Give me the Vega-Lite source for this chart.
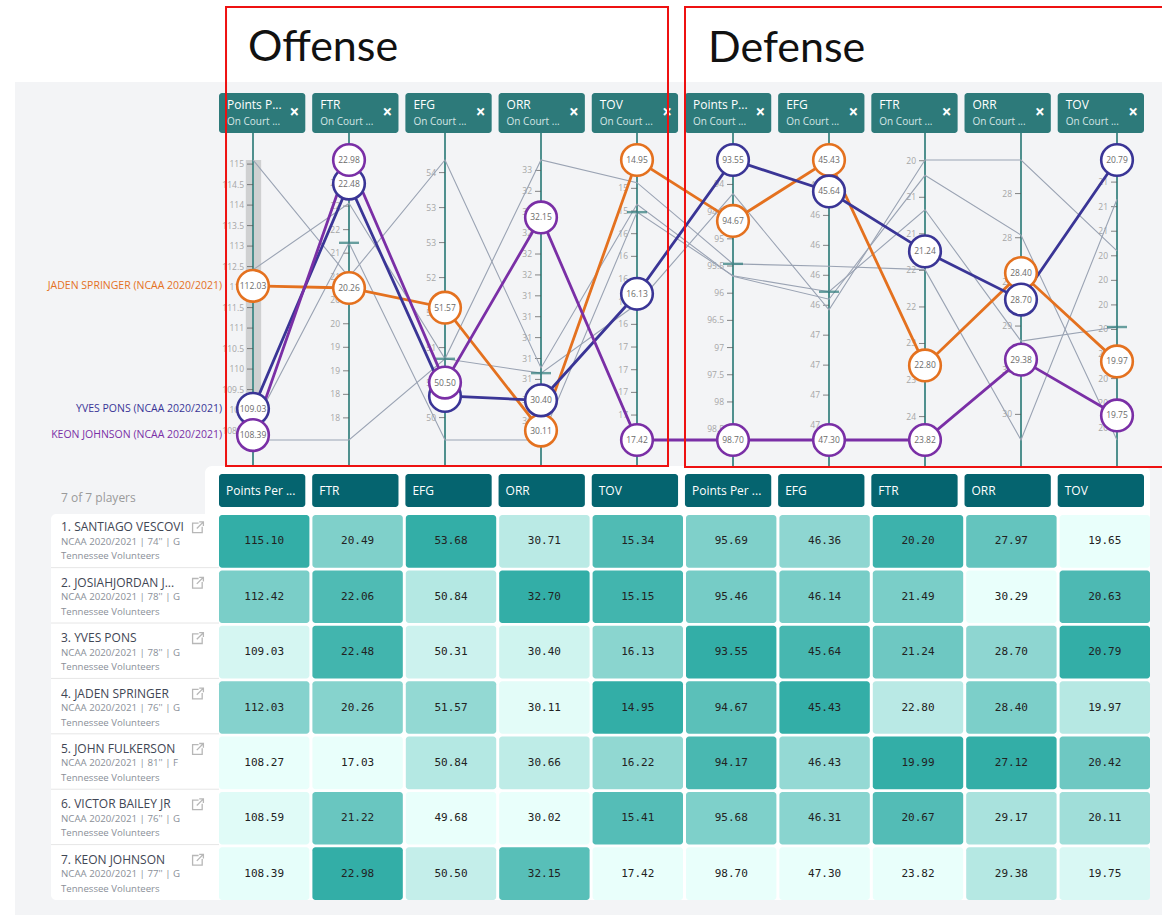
{"$schema":"https://vega.github.io/schema/vega-lite/v6.json","width":1162,"height":917,"padding":0,"autosize":{"type":"none"},"background":"white","config":{"view":{"stroke":null},"axis":{"disable":true},"legend":{"disable":true},"text":{"font":"Open Sans"}},
"datasets":{
"axes":[
{"stat":"OPPP","idx":0,"top":115.10,"bottom":108.27,"short":"Points P...","long":"Points Per ..."},
{"stat":"OFTR","idx":1,"top":22.98,"bottom":17.03,"short":"FTR","long":"FTR"},
{"stat":"OEFG","idx":2,"top":53.68,"bottom":49.68,"short":"EFG","long":"EFG"},
{"stat":"OORR","idx":3,"top":32.70,"bottom":30.02,"short":"ORR","long":"ORR"},
{"stat":"OTOV","idx":4,"top":14.95,"bottom":17.42,"short":"TOV","long":"TOV"},
{"stat":"DPPP","idx":5,"top":93.55,"bottom":98.70,"short":"Points P...","long":"Points Per ..."},
{"stat":"DEFG","idx":6,"top":45.43,"bottom":47.30,"short":"EFG","long":"EFG"},
{"stat":"DFTR","idx":7,"top":19.99,"bottom":23.82,"short":"FTR","long":"FTR"},
{"stat":"DORR","idx":8,"top":27.12,"bottom":30.29,"short":"ORR","long":"ORR"},
{"stat":"DTOV","idx":9,"top":20.79,"bottom":19.65,"short":"TOV","long":"TOV"}],
"players":[
{"player":"Santiago Vescovi","rank":1,"list":"1. SANTIAGO VESCOVI","meta":"NCAA 2020/2021 | 74'' | G","team":"Tennessee Volunteers","label":""},
{"player":"Josiah-Jordan James","rank":2,"list":"2. JOSIAHJORDAN J...","meta":"NCAA 2020/2021 | 78'' | G","team":"Tennessee Volunteers","label":""},
{"player":"Yves Pons","rank":3,"list":"3. YVES PONS","meta":"NCAA 2020/2021 | 78'' | G","team":"Tennessee Volunteers","label":"YVES PONS (NCAA 2020/2021)"},
{"player":"Jaden Springer","rank":4,"list":"4. JADEN SPRINGER","meta":"NCAA 2020/2021 | 76'' | G","team":"Tennessee Volunteers","label":"JADEN SPRINGER (NCAA 2020/2021)"},
{"player":"John Fulkerson","rank":5,"list":"5. JOHN FULKERSON","meta":"NCAA 2020/2021 | 81'' | F","team":"Tennessee Volunteers","label":""},
{"player":"Victor Bailey Jr","rank":6,"list":"6. VICTOR BAILEY JR","meta":"NCAA 2020/2021 | 76'' | G","team":"Tennessee Volunteers","label":""},
{"player":"Keon Johnson","rank":7,"list":"7. KEON JOHNSON","meta":"NCAA 2020/2021 | 77'' | G","team":"Tennessee Volunteers","label":"KEON JOHNSON (NCAA 2020/2021)"}],
"cells":[
{"player":"Santiago Vescovi","stat":"OPPP","value":115.10},{"player":"Santiago Vescovi","stat":"OFTR","value":20.49},{"player":"Santiago Vescovi","stat":"OEFG","value":53.68},{"player":"Santiago Vescovi","stat":"OORR","value":30.71},{"player":"Santiago Vescovi","stat":"OTOV","value":15.34},{"player":"Santiago Vescovi","stat":"DPPP","value":95.69},{"player":"Santiago Vescovi","stat":"DEFG","value":46.36},{"player":"Santiago Vescovi","stat":"DFTR","value":20.20},{"player":"Santiago Vescovi","stat":"DORR","value":27.97},{"player":"Santiago Vescovi","stat":"DTOV","value":19.65},
{"player":"Josiah-Jordan James","stat":"OPPP","value":112.42},{"player":"Josiah-Jordan James","stat":"OFTR","value":22.06},{"player":"Josiah-Jordan James","stat":"OEFG","value":50.84},{"player":"Josiah-Jordan James","stat":"OORR","value":32.70},{"player":"Josiah-Jordan James","stat":"OTOV","value":15.15},{"player":"Josiah-Jordan James","stat":"DPPP","value":95.46},{"player":"Josiah-Jordan James","stat":"DEFG","value":46.14},{"player":"Josiah-Jordan James","stat":"DFTR","value":21.49},{"player":"Josiah-Jordan James","stat":"DORR","value":30.29},{"player":"Josiah-Jordan James","stat":"DTOV","value":20.63},
{"player":"John Fulkerson","stat":"OPPP","value":108.27},{"player":"John Fulkerson","stat":"OFTR","value":17.03},{"player":"John Fulkerson","stat":"OEFG","value":50.84},{"player":"John Fulkerson","stat":"OORR","value":30.66},{"player":"John Fulkerson","stat":"OTOV","value":16.22},{"player":"John Fulkerson","stat":"DPPP","value":94.17},{"player":"John Fulkerson","stat":"DEFG","value":46.43},{"player":"John Fulkerson","stat":"DFTR","value":19.99},{"player":"John Fulkerson","stat":"DORR","value":27.12},{"player":"John Fulkerson","stat":"DTOV","value":20.42},
{"player":"Victor Bailey Jr","stat":"OPPP","value":108.59},{"player":"Victor Bailey Jr","stat":"OFTR","value":21.22},{"player":"Victor Bailey Jr","stat":"OEFG","value":49.68},{"player":"Victor Bailey Jr","stat":"OORR","value":30.02},{"player":"Victor Bailey Jr","stat":"OTOV","value":15.41},{"player":"Victor Bailey Jr","stat":"DPPP","value":95.68},{"player":"Victor Bailey Jr","stat":"DEFG","value":46.31},{"player":"Victor Bailey Jr","stat":"DFTR","value":20.67},{"player":"Victor Bailey Jr","stat":"DORR","value":29.17},{"player":"Victor Bailey Jr","stat":"DTOV","value":20.11},
{"player":"Jaden Springer","stat":"OPPP","value":112.03},{"player":"Jaden Springer","stat":"OFTR","value":20.26},{"player":"Jaden Springer","stat":"OEFG","value":51.57},{"player":"Jaden Springer","stat":"OORR","value":30.11},{"player":"Jaden Springer","stat":"OTOV","value":14.95},{"player":"Jaden Springer","stat":"DPPP","value":94.67},{"player":"Jaden Springer","stat":"DEFG","value":45.43},{"player":"Jaden Springer","stat":"DFTR","value":22.80},{"player":"Jaden Springer","stat":"DORR","value":28.40},{"player":"Jaden Springer","stat":"DTOV","value":19.97},
{"player":"Yves Pons","stat":"OPPP","value":109.03},{"player":"Yves Pons","stat":"OFTR","value":22.48},{"player":"Yves Pons","stat":"OEFG","value":50.31},{"player":"Yves Pons","stat":"OORR","value":30.40},{"player":"Yves Pons","stat":"OTOV","value":16.13},{"player":"Yves Pons","stat":"DPPP","value":93.55},{"player":"Yves Pons","stat":"DEFG","value":45.64},{"player":"Yves Pons","stat":"DFTR","value":21.24},{"player":"Yves Pons","stat":"DORR","value":28.70},{"player":"Yves Pons","stat":"DTOV","value":20.79},
{"player":"Keon Johnson","stat":"OPPP","value":108.39},{"player":"Keon Johnson","stat":"OFTR","value":22.98},{"player":"Keon Johnson","stat":"OEFG","value":50.50},{"player":"Keon Johnson","stat":"OORR","value":32.15},{"player":"Keon Johnson","stat":"OTOV","value":17.42},{"player":"Keon Johnson","stat":"DPPP","value":98.70},{"player":"Keon Johnson","stat":"DEFG","value":47.30},{"player":"Keon Johnson","stat":"DFTR","value":23.82},{"player":"Keon Johnson","stat":"DORR","value":29.38},{"player":"Keon Johnson","stat":"DTOV","value":19.75}],
"ticks":[
{"stat":"OPPP","value":108.5,"label":"108.5"},{"stat":"OPPP","value":109,"label":"109"},{"stat":"OPPP","value":109.5,"label":"109.5"},{"stat":"OPPP","value":110,"label":"110"},{"stat":"OPPP","value":110.5,"label":"110.5"},{"stat":"OPPP","value":111,"label":"111"},{"stat":"OPPP","value":111.5,"label":"111.5"},{"stat":"OPPP","value":112,"label":"112"},{"stat":"OPPP","value":112.5,"label":"112.5"},{"stat":"OPPP","value":113,"label":"113"},{"stat":"OPPP","value":113.5,"label":"113.5"},{"stat":"OPPP","value":114,"label":"114"},{"stat":"OPPP","value":114.5,"label":"114.5"},{"stat":"OPPP","value":115,"label":"115"},
{"stat":"OFTR","value":17.5,"label":"18"},{"stat":"OFTR","value":18,"label":"18"},{"stat":"OFTR","value":18.5,"label":"19"},{"stat":"OFTR","value":19,"label":"19"},{"stat":"OFTR","value":19.5,"label":"20"},{"stat":"OFTR","value":20,"label":"20"},{"stat":"OFTR","value":20.5,"label":"21"},{"stat":"OFTR","value":21,"label":"21"},{"stat":"OFTR","value":21.5,"label":"22"},{"stat":"OFTR","value":22,"label":"22"},{"stat":"OFTR","value":22.5,"label":"23"},
{"stat":"OEFG","value":50,"label":"50"},{"stat":"OEFG","value":50.5,"label":"51"},{"stat":"OEFG","value":51,"label":"51"},{"stat":"OEFG","value":51.5,"label":"52"},{"stat":"OEFG","value":52,"label":"52"},{"stat":"OEFG","value":52.5,"label":"53"},{"stat":"OEFG","value":53,"label":"53"},{"stat":"OEFG","value":53.5,"label":"54"},
{"stat":"OORR","value":30.2,"label":"30"},{"stat":"OORR","value":30.4,"label":"30"},{"stat":"OORR","value":30.6,"label":"31"},{"stat":"OORR","value":30.8,"label":"31"},{"stat":"OORR","value":31,"label":"31"},{"stat":"OORR","value":31.2,"label":"31"},{"stat":"OORR","value":31.4,"label":"31"},{"stat":"OORR","value":31.6,"label":"32"},{"stat":"OORR","value":31.8,"label":"32"},{"stat":"OORR","value":32,"label":"32"},{"stat":"OORR","value":32.2,"label":"32"},{"stat":"OORR","value":32.4,"label":"32"},{"stat":"OORR","value":32.6,"label":"33"},
{"stat":"OTOV","value":15.2,"label":"15"},{"stat":"OTOV","value":15.4,"label":"15"},{"stat":"OTOV","value":15.6,"label":"16"},{"stat":"OTOV","value":15.8,"label":"16"},{"stat":"OTOV","value":16,"label":"16"},{"stat":"OTOV","value":16.2,"label":"16"},{"stat":"OTOV","value":16.4,"label":"16"},{"stat":"OTOV","value":16.6,"label":"17"},{"stat":"OTOV","value":16.8,"label":"17"},{"stat":"OTOV","value":17,"label":"17"},{"stat":"OTOV","value":17.2,"label":"17"},
{"stat":"DPPP","value":94,"label":"94"},{"stat":"DPPP","value":94.5,"label":"94.5"},{"stat":"DPPP","value":95,"label":"95"},{"stat":"DPPP","value":95.5,"label":"95.5"},{"stat":"DPPP","value":96,"label":"96"},{"stat":"DPPP","value":96.5,"label":"96.5"},{"stat":"DPPP","value":97,"label":"97"},{"stat":"DPPP","value":97.5,"label":"97.5"},{"stat":"DPPP","value":98,"label":"98"},{"stat":"DPPP","value":98.5,"label":"98.5"},
{"stat":"DEFG","value":45.6,"label":"46"},{"stat":"DEFG","value":45.8,"label":"46"},{"stat":"DEFG","value":46,"label":"46"},{"stat":"DEFG","value":46.2,"label":"46"},{"stat":"DEFG","value":46.4,"label":"46"},{"stat":"DEFG","value":46.6,"label":"47"},{"stat":"DEFG","value":46.8,"label":"47"},{"stat":"DEFG","value":47,"label":"47"},{"stat":"DEFG","value":47.2,"label":"47"},
{"stat":"DFTR","value":20,"label":"20"},{"stat":"DFTR","value":20.5,"label":"21"},{"stat":"DFTR","value":21,"label":"21"},{"stat":"DFTR","value":21.5,"label":"22"},{"stat":"DFTR","value":22,"label":"22"},{"stat":"DFTR","value":22.5,"label":"23"},{"stat":"DFTR","value":23,"label":"23"},{"stat":"DFTR","value":23.5,"label":"24"},
{"stat":"DORR","value":27.5,"label":"28"},{"stat":"DORR","value":28,"label":"28"},{"stat":"DORR","value":28.5,"label":"29"},{"stat":"DORR","value":29,"label":"29"},{"stat":"DORR","value":29.5,"label":"30"},{"stat":"DORR","value":30,"label":"30"},
{"stat":"DTOV","value":19.7,"label":"20"},{"stat":"DTOV","value":19.8,"label":"20"},{"stat":"DTOV","value":19.9,"label":"20"},{"stat":"DTOV","value":20,"label":"20"},{"stat":"DTOV","value":20.1,"label":"20"},{"stat":"DTOV","value":20.2,"label":"20"},{"stat":"DTOV","value":20.3,"label":"20"},{"stat":"DTOV","value":20.4,"label":"20"},{"stat":"DTOV","value":20.5,"label":"21"},{"stat":"DTOV","value":20.6,"label":"21"},{"stat":"DTOV","value":20.7,"label":"21"}]
},
"data":{"name":"cells"},
"transform":[
{"lookup":"stat","from":{"data":{"name":"axes"},"key":"stat","fields":["idx","top","bottom"]}},
{"lookup":"player","from":{"data":{"name":"players"},"key":"player","fields":["rank","label"]}},
{"calculate":"(datum.top-datum.value)/(datum.top-datum.bottom)","as":"pos"}],
"resolve":{"scale":{"x":"independent","y":"independent","color":"independent","stroke":"independent"}},
"layer":[
{"data":{"values":[{"part":"panel"}]},"mark":{"type":"rect","fill":"#f3f4f6"},"encoding":{"x":{"datum":-2.479,"type":"quantitative","scale":{"domain":[0,9],"range":[253,1117],"nice":false,"zero":false}},"x2":{"datum":9.47},"y":{"datum":-0.279,"type":"quantitative","scale":{"domain":[0,1],"range":[160,440],"nice":false,"zero":false}},"y2":{"datum":2.696}}},
{"data":{"values":[{"part":"strip"}]},"mark":{"type":"rect","fill":"white","cornerRadius":7},"encoding":{"x":{"datum":-0.5,"type":"quantitative","scale":{"domain":[0,9],"range":[253,1117],"nice":false,"zero":false}},"x2":{"datum":9.344},"y":{"datum":1.093,"type":"quantitative","scale":{"domain":[0,1],"range":[160,440],"nice":false,"zero":false}},"y2":{"datum":1.3}}},
{"data":{"values":[{"part":"table"}]},"mark":{"type":"rect","fill":"white","cornerRadius":5},"encoding":{"x":{"datum":-2.104,"type":"quantitative","scale":{"domain":[0,9],"range":[253,1117],"nice":false,"zero":false}},"x2":{"datum":9.344},"y":{"datum":1.264,"type":"quantitative","scale":{"domain":[0,1],"range":[160,440],"nice":false,"zero":false}},"y2":{"datum":2.643}}},
{"data":{"values":[{"part":"brush"}]},"mark":{"type":"rect","fill":"#cfd0d1"},"encoding":{"x":{"datum":-0.075,"type":"quantitative","scale":{"domain":[0,9],"range":[253,1117],"nice":false,"zero":false}},"x2":{"datum":0.085},"y":{"datum":0,"type":"quantitative","scale":{"domain":[0,1],"range":[160,440],"nice":false,"zero":false}},"y2":{"datum":0.93}}},
{"data":{"name":"axes"},"mark":{"type":"rule","color":"#4f908e","strokeWidth":2},"encoding":{"x":{"field":"idx","type":"quantitative","scale":{"domain":[0,9],"range":[253,1117],"nice":false,"zero":false}},"y":{"datum":0,"type":"quantitative","scale":{"domain":[0,1],"range":[133,467],"nice":false,"zero":false}},"y2":{"datum":1}}},
{"data":{"name":"ticks"},"transform":[{"lookup":"stat","from":{"data":{"name":"axes"},"key":"stat","fields":["idx","top","bottom"]}},{"calculate":"(datum.top-datum.value)/(datum.top-datum.bottom)","as":"pos"}],"mark":{"type":"point","shape":"stroke","size":36,"stroke":"#555","strokeWidth":1,"xOffset":-3},"encoding":{"x":{"field":"idx","type":"quantitative","scale":{"domain":[0,9],"range":[253,1117],"nice":false,"zero":false}},"y":{"field":"pos","type":"quantitative","scale":{"domain":[0,1],"range":[160,440],"nice":false,"zero":false}}}},
{"data":{"name":"ticks"},"transform":[{"lookup":"stat","from":{"data":{"name":"axes"},"key":"stat","fields":["idx","top","bottom"]}},{"calculate":"(datum.top-datum.value)/(datum.top-datum.bottom)","as":"pos"}],"mark":{"type":"text","align":"right","baseline":"middle","dx":-9,"fontSize":8.5,"color":"#a6a6a6"},"encoding":{"x":{"field":"idx","type":"quantitative","scale":{"domain":[0,9],"range":[253,1117],"nice":false,"zero":false}},"y":{"field":"pos","type":"quantitative","scale":{"domain":[0,1],"range":[160,440],"nice":false,"zero":false}},"text":{"field":"label"}}},
{"transform":[{"filter":{"field":"player","oneOf":["Santiago Vescovi","Josiah-Jordan James","John Fulkerson","Victor Bailey Jr"]}}],"mark":{"type":"line","color":"#9aa3b3","strokeWidth":1.1},"encoding":{"x":{"field":"idx","type":"quantitative","scale":{"domain":[0,9],"range":[253,1117],"nice":false,"zero":false}},"y":{"field":"pos","type":"quantitative","scale":{"domain":[0,1],"range":[160,440],"nice":false,"zero":false}},"detail":{"field":"player"}}},
{"transform":[{"aggregate":[{"op":"median","field":"pos","as":"med"}],"groupby":["idx"]}],"mark":{"type":"point","shape":"stroke","size":400,"stroke":"#2d7a7a","strokeWidth":2.4},"encoding":{"x":{"field":"idx","type":"quantitative","scale":{"domain":[0,9],"range":[253,1117],"nice":false,"zero":false}},"y":{"field":"med","type":"quantitative","scale":{"domain":[0,1],"range":[160,440],"nice":false,"zero":false}}}},
{"data":{"name":"axes"},"mark":{"type":"rect","fill":"#2d7a7a","cornerRadius":3},"encoding":{"x":{"field":"idx","type":"ordinal","scale":{"type":"band","range":[219,1144],"paddingInner":0.074,"paddingOuter":0}},"y":{"datum":"head","type":"nominal","scale":{"type":"band","domain":["head"],"range":[93,133]}}}},
{"data":{"name":"axes"},"mark":{"type":"text","align":"left","baseline":"middle","dx":8,"dy":-8,"fontSize":12,"color":"white"},"encoding":{"x":{"field":"idx","type":"ordinal","bandPosition":0,"scale":{"type":"band","range":[219,1144],"paddingInner":0.074,"paddingOuter":0}},"y":{"datum":"head","type":"nominal","scale":{"type":"band","domain":["head"],"range":[93,133]}},"text":{"field":"short"}}},
{"data":{"name":"axes"},"mark":{"type":"text","align":"left","baseline":"middle","dx":8,"dy":9,"fontSize":10,"color":"#d5e6e6","text":"On Court ..."},"encoding":{"x":{"field":"idx","type":"ordinal","bandPosition":0,"scale":{"type":"band","range":[219,1144],"paddingInner":0.074,"paddingOuter":0}},"y":{"datum":"head","type":"nominal","scale":{"type":"band","domain":["head"],"range":[93,133]}}}},
{"data":{"name":"axes"},"mark":{"type":"text","align":"center","baseline":"middle","dx":-11,"dy":0,"fontSize":17,"fontWeight":"bold","color":"white","text":"×"},"encoding":{"x":{"field":"idx","type":"ordinal","bandPosition":1,"scale":{"type":"band","range":[219,1144],"paddingInner":0.074,"paddingOuter":0}},"y":{"datum":"head","type":"nominal","scale":{"type":"band","domain":["head"],"range":[93,133]}}}},
{"transform":[{"filter":{"field":"player","oneOf":["Jaden Springer","Yves Pons","Keon Johnson"]}}],"mark":{"type":"line","strokeWidth":2.8},"encoding":{"x":{"field":"idx","type":"quantitative","scale":{"domain":[0,9],"range":[253,1117],"nice":false,"zero":false}},"y":{"field":"pos","type":"quantitative","scale":{"domain":[0,1],"range":[160,440],"nice":false,"zero":false}},"color":{"field":"player","type":"nominal","scale":{"domain":["Jaden Springer","Yves Pons","Keon Johnson"],"range":["#e4711f","#3a3596","#7a2fa6"]}}}},
{"transform":[{"filter":{"field":"player","oneOf":["Jaden Springer","Yves Pons","Keon Johnson"]}}],"mark":{"type":"point","filled":false,"fill":"white","size":1000,"strokeWidth":2.6,"opacity":1},"encoding":{"x":{"field":"idx","type":"quantitative","scale":{"domain":[0,9],"range":[253,1117],"nice":false,"zero":false}},"y":{"field":"pos","type":"quantitative","scale":{"domain":[0,1],"range":[160,440],"nice":false,"zero":false}},"stroke":{"field":"player","type":"nominal","scale":{"domain":["Jaden Springer","Yves Pons","Keon Johnson"],"range":["#e4711f","#3a3596","#7a2fa6"]}}}},
{"transform":[{"filter":{"field":"player","oneOf":["Jaden Springer","Yves Pons","Keon Johnson"]}},{"filter":"datum.stat!=='OEFG'||datum.player!=='Yves Pons'"}],"mark":{"type":"text","align":"center","baseline":"middle","fontSize":8.5,"color":"#6b6b6b"},"encoding":{"x":{"field":"idx","type":"quantitative","scale":{"domain":[0,9],"range":[253,1117],"nice":false,"zero":false}},"y":{"field":"pos","type":"quantitative","scale":{"domain":[0,1],"range":[160,440],"nice":false,"zero":false}},"text":{"field":"value","format":".2f"}}},
{"transform":[{"filter":{"field":"player","oneOf":["Jaden Springer","Yves Pons","Keon Johnson"]}},{"filter":"datum.idx===0"}],"mark":{"type":"text","align":"right","baseline":"middle","dx":-31,"fontSize":10.5},"encoding":{"x":{"field":"idx","type":"quantitative","scale":{"domain":[0,9],"range":[253,1117],"nice":false,"zero":false}},"y":{"field":"pos","type":"quantitative","scale":{"domain":[0,1],"range":[160,440],"nice":false,"zero":false}},"text":{"field":"label"},"color":{"field":"player","type":"nominal","scale":{"domain":["Jaden Springer","Yves Pons","Keon Johnson"],"range":["#e4711f","#3a3596","#7a2fa6"]}}}},
{"mark":{"type":"rect","cornerRadius":3},"encoding":{"x":{"field":"idx","type":"ordinal","scale":{"type":"band","range":[219,1150],"paddingInner":0.032,"paddingOuter":0}},"y":{"field":"rank","type":"ordinal","scale":{"type":"band","range":[515,900],"paddingInner":0.05,"paddingOuter":0}},"color":{"field":"pos","type":"quantitative","scale":{"domain":[0,1],"range":["#33aea7","#e9fffb"],"interpolate":"rgb"}}}},
{"mark":{"type":"text","align":"center","baseline":"middle","font":"DejaVu Sans Mono","fontSize":11,"color":"#222"},"encoding":{"x":{"field":"idx","type":"ordinal","scale":{"type":"band","range":[219,1150],"paddingInner":0.032,"paddingOuter":0}},"y":{"field":"rank","type":"ordinal","scale":{"type":"band","range":[515,900],"paddingInner":0.05,"paddingOuter":0}},"text":{"field":"value","format":".2f"}}},
{"data":{"name":"axes"},"mark":{"type":"rect","fill":"#05646f","cornerRadius":3},"encoding":{"x":{"field":"idx","type":"ordinal","scale":{"type":"band","range":[219,1144],"paddingInner":0.074,"paddingOuter":0}},"y":{"datum":"head","type":"nominal","scale":{"type":"band","domain":["head"],"range":[474,507]}}}},
{"data":{"name":"axes"},"mark":{"type":"text","align":"left","baseline":"middle","dx":7,"fontSize":12,"color":"white"},"encoding":{"x":{"field":"idx","type":"ordinal","bandPosition":0,"scale":{"type":"band","range":[219,1144],"paddingInner":0.074,"paddingOuter":0}},"y":{"datum":"head","type":"nominal","scale":{"type":"band","domain":["head"],"range":[474,507]}},"text":{"field":"long"}}},
{"data":{"name":"players"},"transform":[{"filter":"datum.rank<7"}],"mark":{"type":"rule","color":"#e6e6e6","strokeWidth":1},"encoding":{"y":{"field":"rank","type":"ordinal","bandPosition":1,"scale":{"type":"band","domain":[1,2,3,4,5,6,7],"range":[515,900],"paddingInner":0.05,"paddingOuter":0}},"x":{"datum":-2.104,"type":"quantitative","scale":{"domain":[0,9],"range":[253,1117],"nice":false,"zero":false}},"x2":{"datum":-0.354}}},
{"data":{"name":"players"},"mark":{"type":"text","align":"left","baseline":"middle","dy":-14,"fontSize":12,"color":"#3f4654"},"encoding":{"x":{"datum":-2.0,"type":"quantitative","scale":{"domain":[0,9],"range":[253,1117],"nice":false,"zero":false}},"y":{"field":"rank","type":"ordinal","scale":{"type":"band","range":[515,900],"paddingInner":0.05,"paddingOuter":0}},"text":{"field":"list"}}},
{"data":{"name":"players"},"mark":{"type":"text","align":"left","baseline":"middle","dy":0.5,"fontSize":9.7,"color":"#8a8f98"},"encoding":{"x":{"datum":-2.0,"type":"quantitative","scale":{"domain":[0,9],"range":[253,1117],"nice":false,"zero":false}},"y":{"field":"rank","type":"ordinal","scale":{"type":"band","range":[515,900],"paddingInner":0.05,"paddingOuter":0}},"text":{"field":"meta"}}},
{"data":{"name":"players"},"mark":{"type":"text","align":"left","baseline":"middle","dy":15,"fontSize":9.6,"color":"#8a8f98"},"encoding":{"x":{"datum":-2.0,"type":"quantitative","scale":{"domain":[0,9],"range":[253,1117],"nice":false,"zero":false}},"y":{"field":"rank","type":"ordinal","scale":{"type":"band","range":[515,900],"paddingInner":0.05,"paddingOuter":0}},"text":{"field":"team"}}},
{"data":{"name":"players"},"mark":{"type":"point","shape":"M0.1,-0.7H-0.9V0.9H0.7V-0.1M-0.2,0.2L0.9,-0.9M0.2,-0.9H0.9V-0.2","size":144,"filled":false,"fill":"transparent","stroke":"#9a9a9a","strokeWidth":1.3,"yOffset":-14},"encoding":{"x":{"datum":-0.573,"type":"quantitative","scale":{"domain":[0,9],"range":[253,1117],"nice":false,"zero":false}},"y":{"field":"rank","type":"ordinal","scale":{"type":"band","range":[515,900],"paddingInner":0.05,"paddingOuter":0}}}},
{"data":{"values":[{"text":"7 of 7 players"}]},"mark":{"type":"text","align":"left","baseline":"middle","fontSize":12,"color":"#9a9a9a"},"encoding":{"x":{"datum":-2.0,"type":"quantitative","scale":{"domain":[0,9],"range":[253,1117],"nice":false,"zero":false}},"y":{"datum":1.207,"type":"quantitative","scale":{"domain":[0,1],"range":[160,440],"nice":false,"zero":false}},"text":{"field":"text"}}},
{"data":{"values":[{"section":"Offense"}]},"mark":{"type":"rect","fill":null,"stroke":"#ee1111","strokeWidth":2},"encoding":{"x":{"datum":-0.281,"type":"quantitative","scale":{"domain":[0,9],"range":[253,1117],"nice":false,"zero":false}},"x2":{"datum":4.323},"y":{"datum":-0.5464,"type":"quantitative","scale":{"domain":[0,1],"range":[160,440],"nice":false,"zero":false}},"y2":{"datum":1.0929}}},
{"data":{"values":[{"section":"Defense"}]},"mark":{"type":"rect","fill":null,"stroke":"#ee1111","strokeWidth":2},"encoding":{"x":{"datum":4.5,"type":"quantitative","scale":{"domain":[0,9],"range":[253,1117],"nice":false,"zero":false}},"x2":{"datum":9.7},"y":{"datum":-0.5464,"type":"quantitative","scale":{"domain":[0,1],"range":[160,440],"nice":false,"zero":false}},"y2":{"datum":1.0964}}},
{"data":{"values":[{"section":"Offense"}]},"mark":{"type":"text","align":"left","baseline":"middle","font":"Lato","fontSize":43,"color":"#111"},"encoding":{"x":{"datum":-0.052,"type":"quantitative","scale":{"domain":[0,9],"range":[253,1117],"nice":false,"zero":false}},"y":{"datum":-0.4,"type":"quantitative","scale":{"domain":[0,1],"range":[160,440],"nice":false,"zero":false}},"text":{"field":"section"}}},
{"data":{"values":[{"section":"Defense"}]},"mark":{"type":"text","align":"left","baseline":"middle","font":"Lato","fontSize":43,"color":"#111"},"encoding":{"x":{"datum":4.74,"type":"quantitative","scale":{"domain":[0,9],"range":[253,1117],"nice":false,"zero":false}},"y":{"datum":-0.395,"type":"quantitative","scale":{"domain":[0,1],"range":[160,440],"nice":false,"zero":false}},"text":{"field":"section"}}}
]}
